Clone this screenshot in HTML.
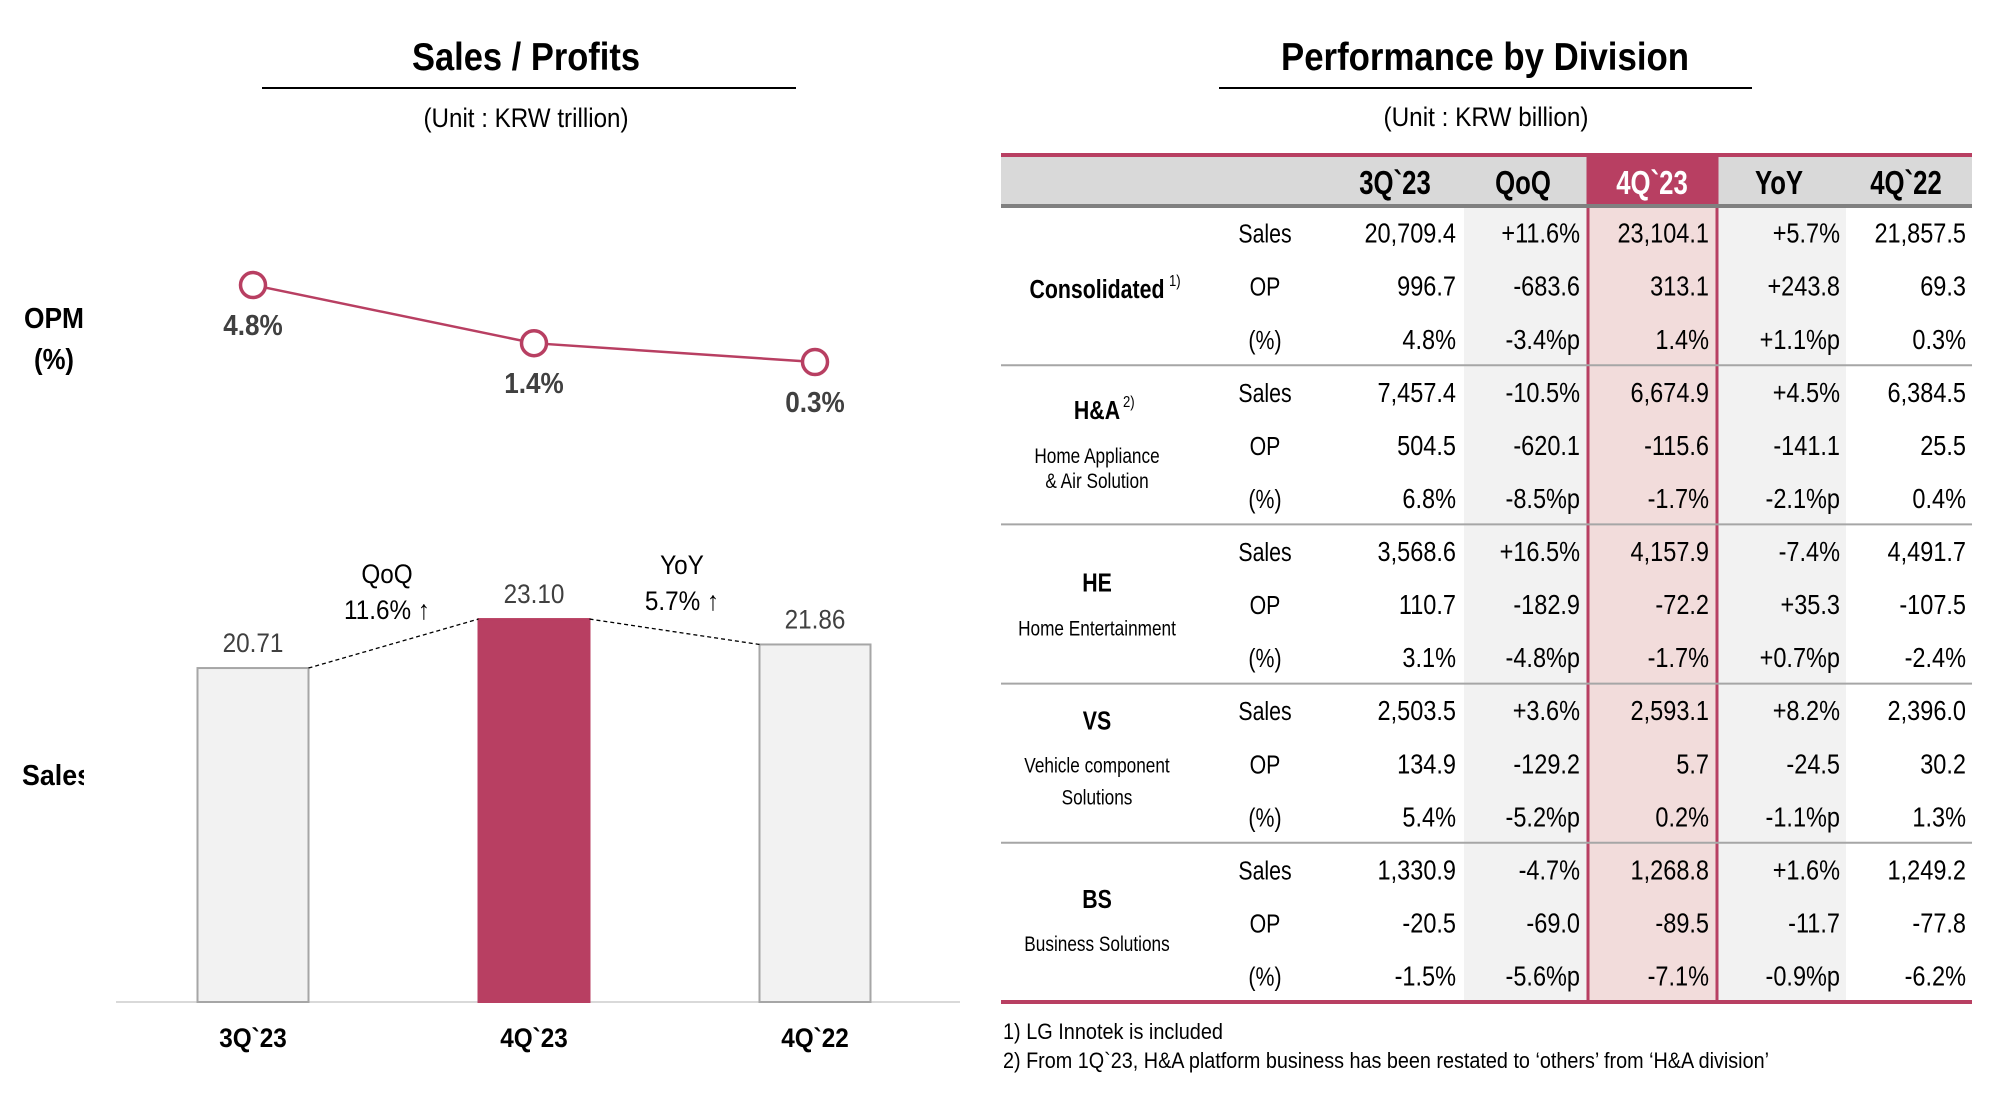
<!DOCTYPE html>
<html><head><meta charset="utf-8">
<style>
html,body{margin:0;padding:0;background:#fff;}
svg{display:block;font-family:"Liberation Sans",Arial,sans-serif;}
</style></head>
<body>
<svg id="root" width="2012" height="1098" viewBox="0 0 2012 1098" xmlns="http://www.w3.org/2000/svg">
  <g>
    <text x="526" y="70" text-anchor="middle" font-size="39" font-weight="bold" textLength="228" lengthAdjust="spacingAndGlyphs">Sales / Profits</text>
    <line x1="262" y1="88" x2="796" y2="88" stroke="#000" stroke-width="2"/>
    <text x="526" y="127" text-anchor="middle" font-size="27" textLength="205" lengthAdjust="spacingAndGlyphs">(Unit : KRW trillion)</text>
    <text x="54" y="328" text-anchor="middle" font-size="29" font-weight="bold" textLength="60" lengthAdjust="spacingAndGlyphs">OPM</text>
    <text x="54" y="369" text-anchor="middle" font-size="29" font-weight="bold" textLength="40" lengthAdjust="spacingAndGlyphs">(%)</text>
    <svg x="0" y="740" width="84" height="60"><text x="22" y="45" font-size="29" font-weight="bold" textLength="70" lengthAdjust="spacingAndGlyphs">Sales</text></svg>
    <g id="chart"></g>
  </g>
  <g>
    <text x="1485" y="70" text-anchor="middle" font-size="39" font-weight="bold" textLength="408" lengthAdjust="spacingAndGlyphs">Performance by Division</text>
    <line x1="1219" y1="88" x2="1752" y2="88" stroke="#000" stroke-width="2"/>
    <text x="1486" y="126" text-anchor="middle" font-size="27" textLength="205" lengthAdjust="spacingAndGlyphs">(Unit : KRW billion)</text>
    <g id="table"></g>
    <text x="1003" y="1039" font-size="22" textLength="220" lengthAdjust="spacingAndGlyphs">1) LG Innotek is included</text>
    <text x="1003" y="1068" font-size="22" textLength="766" lengthAdjust="spacingAndGlyphs">2) From 1Q`23, H&amp;A platform business has been restated to ‘others’ from ‘H&amp;A division’</text>
  </g>
</svg>
<script>
// ---- Chart data ----
const categories = ["3Q`23", "4Q`23", "4Q`22"];
const salesValues = [20.71, 23.10, 21.86];
const salesLabels = ["20.71", "23.10", "21.86"];
const opmValues = [4.8, 1.4, 0.3];
const opmLabels = ["4.8%", "1.4%", "0.3%"];
const changeNames = ["QoQ", "YoY"];
const changeLabels = ["11.6% \u2191", "5.7% \u2191"];

// ---- Table data ----
const colHeaders = ["3Q`23", "QoQ", "4Q`23", "YoY", "4Q`22"];
const metricNames = ["Sales", "OP", "(%)"];
const divisionNames = ["Consolidated", "H&A", "HE", "VS", "BS"];
const divisionSups = ["1)", "2)", "", "", ""];
const divisionSubs = [[], ["Home Appliance", "& Air Solution"], ["Home Entertainment"], ["Vehicle component", "Solutions"], ["Business Solutions"]];
const tableValues = [
  [["20,709.4","+11.6%","23,104.1","+5.7%","21,857.5"],["996.7","-683.6","313.1","+243.8","69.3"],["4.8%","-3.4%p","1.4%","+1.1%p","0.3%"]],
  [["7,457.4","-10.5%","6,674.9","+4.5%","6,384.5"],["504.5","-620.1","-115.6","-141.1","25.5"],["6.8%","-8.5%p","-1.7%","-2.1%p","0.4%"]],
  [["3,568.6","+16.5%","4,157.9","-7.4%","4,491.7"],["110.7","-182.9","-72.2","+35.3","-107.5"],["3.1%","-4.8%p","-1.7%","+0.7%p","-2.4%"]],
  [["2,503.5","+3.6%","2,593.1","+8.2%","2,396.0"],["134.9","-129.2","5.7","-24.5","30.2"],["5.4%","-5.2%p","0.2%","-1.1%p","1.3%"]],
  [["1,330.9","-4.7%","1,268.8","+1.6%","1,249.2"],["-20.5","-69.0","-89.5","-11.7","-77.8"],["-1.5%","-5.6%p","-7.1%","-0.9%p","-6.2%"]]
];

const NS = "http://www.w3.org/2000/svg";
const MAG = "#b83f62";
function el(tag, attrs, parent) {
  const e = document.createElementNS(NS, tag);
  for (const k in attrs) e.setAttribute(k, attrs[k]);
  parent.appendChild(e);
  return e;
}
function txt(parent, x, y, s, size, anchor, weight, fill, sx) {
  const t = el("text", {transform: "translate(" + x + "," + y + ") scale(" + (sx || 0.84) + ",1)", "font-size": size, "text-anchor": anchor || "middle", "font-weight": weight || "normal", fill: fill || "#000"}, parent);
  t.textContent = s;
  return t;
}

// ---- Chart ----
const chart = document.getElementById("chart");
const baseY = 1002, barW = 111;
const xCenter = i => 253 + i * 281;
const ySales = v => baseY - (v - 4.42) * 20.5;
const yOpm = v => 362 - (v - 0.3) * 17.1;

const axis = el("line", {x1: 116, y1: baseY, x2: 960, y2: baseY, stroke: "#d9d9d9", "stroke-width": 2}, chart);



salesValues.forEach((v, i) => {
  const y = ySales(v);
  const hi = i === 1;
  const r = el("rect", {x: xCenter(i) - barW / 2, y: y, width: barW, height: baseY - y, fill: hi ? "#b83f62" : "#f2f2f2", stroke: hi ? "#b83f62" : "#a6a6a6", "stroke-width": 2}, chart);
  
  
  const lb = txt(chart, xCenter(i), y - 16, salesLabels[i], 27, "middle", "normal", "#404040", 0.9);
  
  
  const cl = txt(chart, xCenter(i), 1047, categories[i], 27, "middle", "bold", "#000", 0.9);
  
  
});
for (let i = 0; i < 2; i++) {
  const d = el("line", {x1: xCenter(i) + barW / 2, y1: ySales(salesValues[i]), x2: xCenter(i + 1) - barW / 2, y2: ySales(salesValues[i + 1]), stroke: "#000", "stroke-width": 1.3, "stroke-dasharray": "4,3"}, chart);
  
  
}
const chX = [387, 682], chY = [583, 574];
changeNames.forEach((n, i) => {
  const a = txt(chart, chX[i], chY[i], n, 27, "middle", "normal", "#000", 0.9);
  
  
  const b = txt(chart, chX[i], chY[i] + 36, changeLabels[i], 27, "middle", "normal", "#000", 0.9);
  
  
});
const pts = opmValues.map((v, i) => xCenter(i) + "," + yOpm(v)).join(" ");
const pl = el("polyline", {points: pts, fill: "none", stroke: MAG, "stroke-width": 2.5}, chart);


opmValues.forEach((v, i) => {
  const c = el("circle", {cx: xCenter(i), cy: yOpm(v), r: 12.5, fill: "#fff", stroke: MAG, "stroke-width": 3.5}, chart);
  
  
  const t = txt(chart, xCenter(i), yOpm(v) + 50, opmLabels[i], 29, "middle", "bold", "#404040", 0.9);
  
  
});

// ---- Table ----
const tb = document.getElementById("table");
const L = 1001, R = 1972, headTop = 155, headBot = 206, groupH = 159.2, rowH = 53.1;
const bottom = headBot + groupH * 5;
const hl = [1588, 1717];
let r;
r = el("rect", {x: L, y: headTop, width: R - L, height: headBot - headTop, fill: "#d9d9d9"}, tb);


r = el("rect", {x: 1464, y: headBot, width: hl[0] - 1464, height: bottom - headBot, fill: "#f2f2f2"}, tb);


r = el("rect", {x: hl[1], y: headBot, width: 1846 - hl[1], height: bottom - headBot, fill: "#f2f2f2"}, tb);


r = el("rect", {x: hl[0], y: headTop, width: hl[1] - hl[0], height: headBot - headTop, fill: MAG}, tb);


r = el("rect", {x: hl[0], y: headBot, width: hl[1] - hl[0], height: bottom - headBot, fill: "#f2dcdb"}, tb);


[hl[0], hl[1]].forEach(x => {
  const v = el("line", {x1: x, y1: headTop, x2: x, y2: bottom, stroke: MAG, "stroke-width": 3}, tb);
  
  
});
r = el("line", {x1: L, y1: headTop, x2: R, y2: headTop, stroke: MAG, "stroke-width": 4}, tb);


r = el("line", {x1: L, y1: headBot, x2: R, y2: headBot, stroke: "#808080", "stroke-width": 4}, tb);


for (let g = 1; g < 5; g++) {
  const s = el("line", {x1: L, y1: headBot + g * groupH, x2: R, y2: headBot + g * groupH, stroke: "#a6a6a6", "stroke-width": 2}, tb);
  
  
}
r = el("line", {x1: L, y1: bottom, x2: R, y2: bottom, stroke: MAG, "stroke-width": 4}, tb);



const headX = [1395, 1523, 1652, 1779, 1906];
colHeaders.forEach((h, i) => {
  const t = txt(tb, headX[i], 194, h, 33, "middle", "bold", i === 2 ? "#fff" : "#000", 0.78);
  
  
});
const numRight = [1456, 1580, 1709, 1840, 1966];
const nameOff = [92, 54, 67, 46, 65];
const subOff = [[], [98, 123], [111], [89, 121], [108]];
const supOff = [72, 26, 0, 0, 0];
divisionNames.forEach((d, g) => {
  const top = headBot + g * groupH;
  const nameY = top + nameOff[g];
  const dt = txt(tb, 1097, nameY, d, 26, "middle", "bold", "#000", 0.82);
  
  
  if (divisionSups[g]) {
    const sp = txt(tb, 1097 + supOff[g], nameY - 12, divisionSups[g], 16, "start", "normal", "#000", 0.82);
    
    
  }
  divisionSubs[g].forEach((s, k) => {
    const st = txt(tb, 1097, top + subOff[g][k], s, 21, "middle", "normal", "#000", 0.82);
    
    
  });
  metricNames.forEach((m, k) => {
    const y = top + rowH * k + rowH / 2 + 10;
    const mt = txt(tb, 1265, y, m, 26, "middle", "normal", "#000", 0.82);
    
    
    tableValues[g][k].forEach((v, c) => {
      const vt = txt(tb, numRight[c], y, v, 28, "end", "normal", "#000", 0.84);
      
      
    });
  });
});
</script>
</body></html>
